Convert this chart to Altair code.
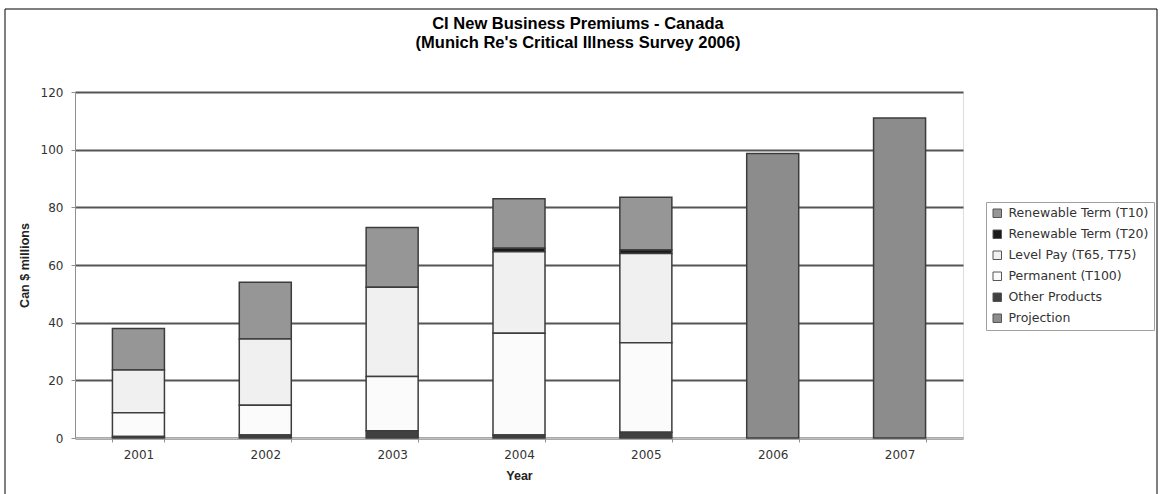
import altair as alt
import pandas as pd

years = ["2001", "2002", "2003", "2004", "2005", "2006", "2007"]
series = ["Renewable Term (T10)", "Renewable Term (T20)", "Level Pay (T65, T75)",
          "Permanent (T100)", "Other Products", "Projection"]
colors = ["#969696", "#1a1a1a", "#f0f0f0", "#fbfbfb", "#404040", "#8c8c8c"]
stack_order = [4, 3, 2, 1, 0, 5]

t10 = [14.4, 19.7, 20.7, 17.2, 18.3, 0, 0]
t20 = [0, 0, 0, 1.2, 1.2, 0, 0]
level_pay = [14.8, 22.9, 31.0, 28.3, 31.0, 0, 0]
permanent = [8.3, 10.4, 18.8, 35.3, 31.0, 0, 0]
other = [0.5, 1.0, 2.5, 1.0, 2.0, 0, 0]
projection = [0, 0, 0, 0, 0, 98.7, 111.0]

title_lines = ["CI New Business Premiums - Canada", "(Munich Re's Critical Illness Survey 2006)"]

values = [t10, t20, level_pay, permanent, other, projection]
rows = []
for s, vals, o in zip(series, values, stack_order):
    for y, v in zip(years, vals):
        if v > 0:
            rows.append({"Year": y, "Series": s, "Value": v, "ord": o})
df = pd.DataFrame(rows)

FONT = "DejaVu Sans"
TFONT = "Liberation Sans"

bars = alt.Chart(df).mark_bar(stroke="#3c3c3c", strokeWidth=1.5).encode(
    x=alt.X("Year:N", sort=years,
            scale=alt.Scale(paddingInner=0.59, paddingOuter=0.295),
            axis=alt.Axis(title="Year", labelAngle=0, tickBand="extent",
                          tickSize=4, tickColor="#909090", labelPadding=7,
                          domainColor="#c0c0c0", titlePadding=9,
                          labelFontSize=12, labelColor="#333333",
                          titleFontSize=12.5, titleFontWeight="bold", titleColor="#222222",
                          labelFont=FONT, titleFont=TFONT)),
    y=alt.Y("Value:Q", stack="zero",
            scale=alt.Scale(domain=[0, 120], nice=False),
            axis=alt.Axis(title="Can $ millions", values=[0, 20, 40, 60, 80, 100, 120],
                          grid=True, gridColor="#555555", gridWidth=2,
                          tickSize=4, tickColor="#909090", domainColor="#909090",
                          labelPadding=8, titlePadding=9,
                          labelFontSize=12, labelColor="#333333",
                          titleFontSize=12.5, titleFontWeight="bold", titleColor="#222222",
                          labelFont=FONT, titleFont=TFONT)),
    color=alt.Color("Series:N",
                    scale=alt.Scale(domain=series, range=colors),
                    legend=alt.Legend(title=None, orient="none", legendX=911, legendY=110,
                                      symbolType="square", symbolSize=72,
                                      symbolStrokeColor="#555555", symbolStrokeWidth=1,
                                      labelFontSize=12.5, labelColor="#333333", labelFont=FONT,
                                      labelOffset=5,
                                      rowPadding=8, padding=5, strokeColor="#a0a0a0",
                                      fillColor="white", labelLimit=220)),
    order=alt.Order("ord:Q"),
)

frame = alt.Chart(pd.DataFrame({"a": [0]})).mark_rect(
    filled=False, stroke="black", strokeWidth=1
).encode(x=alt.value(-70), x2=alt.value(1082), y=alt.value(-83), y2=alt.value(420))

title1 = alt.Chart(pd.DataFrame({"t": [title_lines[0]]})).mark_text(
    font=TFONT, fontSize=16.5, fontWeight="bold", color="black", align="center", baseline="middle"
).encode(text="t:N", x=alt.value(503), y=alt.value(-68))

title2 = alt.Chart(pd.DataFrame({"t": [title_lines[1]]})).mark_text(
    font=TFONT, fontSize=16.5, fontWeight="bold", color="black", align="center", baseline="middle"
).encode(text="t:N", x=alt.value(503), y=alt.value(-49))

chart = alt.layer(frame, bars, title1, title2).properties(
    width=888, height=346,
    autosize=alt.AutoSizeParams(type="none"),
    padding={"left": 75, "top": 92, "right": 200, "bottom": 56},
).configure_view(fill="#b0b0b0", stroke="#808080", strokeWidth=1
).configure(background="white")

chart.save("out.html", embed_options={"renderer": "svg", "actions": False})
